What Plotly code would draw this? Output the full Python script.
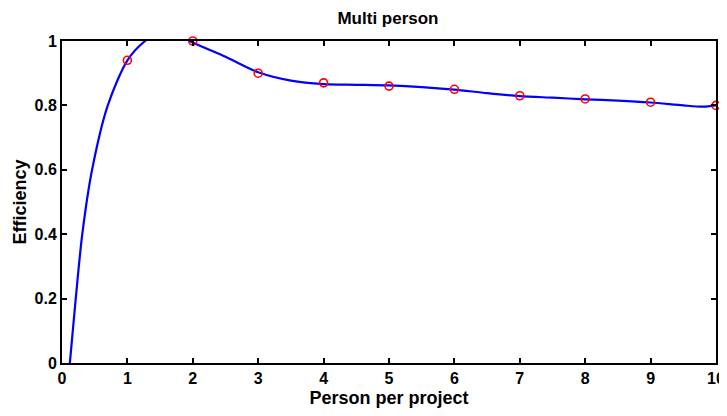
import plotly.graph_objects as go

# Measured data points (red circles)
persons = [1, 2, 3, 4, 5, 6, 7, 8, 9, 10]
efficiency = [0.94, 1.0, 0.90, 0.87, 0.86, 0.85, 0.83, 0.82, 0.81, 0.80]

# Fitted curve (blue)
curve_x = [0.12, 0.21, 0.31, 0.46, 0.70, 1.0, 1.27, 1.6, 1.95, 2.5, 3.0, 3.5, 4.0, 4.5,
           5.0, 5.5, 6.0, 6.5, 7.0, 7.5, 8.0, 8.5, 9.0, 9.5, 9.8, 10.0]
curve_y = [0.0, 0.2, 0.4, 0.6, 0.8, 0.94, 1.0, 1.04, 1.0, 0.951, 0.903, 0.877, 0.866, 0.864,
           0.862, 0.857, 0.849, 0.838, 0.829, 0.824, 0.819, 0.815, 0.809, 0.800, 0.796, 0.80]

x_ticks = [0, 1, 2, 3, 4, 5, 6, 7, 8, 9, 10]
y_ticks = [0, 0.2, 0.4, 0.6, 0.8, 1.0]
y_tick_labels = ["0", "0.2", "0.4", "0.6", "0.8", "1"]

FONT = "Liberation Sans, Arial, Helvetica, sans-serif"

fig = go.Figure()
fig.add_trace(go.Scatter(
    x=curve_x, y=curve_y, mode="lines",
    line=dict(color="#0000ff", width=2.2, shape="spline", smoothing=0.8),
    showlegend=False, hoverinfo="skip"))
fig.add_trace(go.Scatter(
    x=persons, y=efficiency, mode="markers",
    marker=dict(symbol="circle-open", color="#ff0000", size=8, line=dict(width=1.6, color="#ff0000")),
    showlegend=False, cliponaxis=False))

axis_common = dict(
    showline=True, linecolor="black", linewidth=2, mirror="ticks",
    ticks="inside", ticklen=5, tickwidth=2, tickcolor="black",
    showgrid=False, zeroline=False, automargin=False,
    tickfont=dict(family=FONT, size=16, color="black", weight="bold"),
)

fig.update_layout(
    width=719, height=408,
    margin=dict(l=54, r=11, t=33, b=53),
    paper_bgcolor="white", plot_bgcolor="white",
    title=dict(text="Multi person", x=0.5285, xanchor="center", xref="container",
               y=0.975, yanchor="middle", yref="container",
               font=dict(family=FONT, size=17, color="black", weight="bold")),
    xaxis=dict(range=[0, 10], tickvals=x_ticks,
               title=dict(text="Person per project", standoff=5,
                          font=dict(family=FONT, size=18, color="black", weight="bold")),
               **axis_common),
    yaxis=dict(range=[0, 1], tickvals=y_ticks, ticktext=y_tick_labels,
               title=dict(text="Efficiency", standoff=3,
                          font=dict(family=FONT, size=18, color="black", weight="bold")),
               **axis_common),
)

fig.write_html("out.html")
